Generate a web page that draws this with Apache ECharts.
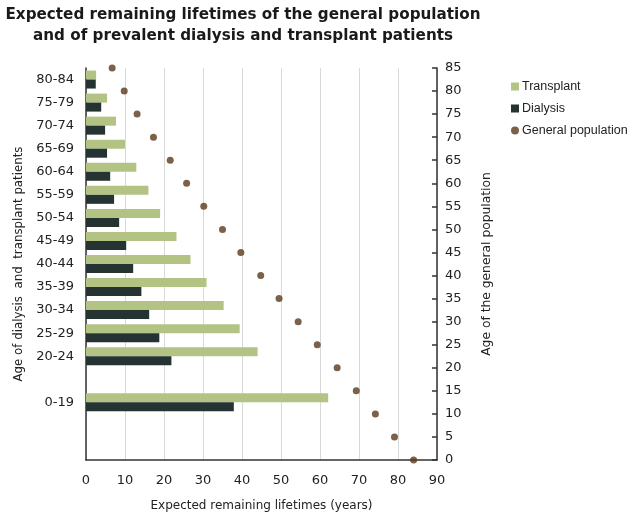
<!DOCTYPE html>
<html>
<head>
<meta charset="utf-8">
<script src="https://cdn.jsdelivr.net/npm/echarts@6/dist/echarts.min.js"></script>
<style>
  html, body { margin: 0; padding: 0; background: #fff; }
  #chart { width: 633px; height: 519px; }
</style>
</head>
<body>
<div id="chart"></div>
<script>
// age bands of patients, bottom to top (5-year slots on the right axis)
const ageGroups = ['', '', '0-19', '', '20-24', '25-29', '30-34', '35-39', '40-44',
  '45-49', '50-54', '55-59', '60-64', '65-69', '70-74', '75-79', '80-84']
const transplant = [null, null, 62.1, null, 44, 39.4, 35.3, 30.9, 26.8,
  23.2, 19, 16, 12.9, 10, 7.7, 5.4, 2.6]
const dialysis = [null, null, 37.9, null, 21.9, 18.8, 16.2, 14.2, 12.1,
  10.3, 8.5, 7.2, 6.2, 5.4, 4.9, 3.9, 2.5]

// general population: age and expected remaining lifetime
const popAge = [0, 5, 10, 15, 20, 25, 30, 35, 40, 45, 50, 55, 60, 65, 70, 75, 80, 85]
const popLife = [84, 79.1, 74.2, 69.3, 64.4, 59.3, 54.4, 49.5, 44.8, 39.7,
  35, 30.2, 25.8, 21.6, 17.3, 13.1, 9.8, 6.7]

const font = 'DejaVu Sans'
const chart = echarts.init(document.getElementById('chart'))

chart.setOption({
  animation: false,
  textStyle: { fontFamily: font },
  title: {
    text: 'Expected remaining lifetimes of the general population\nand of prevalent dialysis and transplant patients',
    left: 238,
    top: 0,
    textAlign: 'center',
    textStyle: { fontSize: 15.2, fontWeight: 'bold', color: '#1a1a1a', lineHeight: 21, fontFamily: font }
  },
  legend: {
    orient: 'vertical',
    left: 506,
    top: 75,
    itemGap: 9,
    itemWidth: 8,
    itemHeight: 8,
    textStyle: { fontSize: 12.5, color: '#222', fontFamily: 'Liberation Sans', padding: [0, 0, 0, -2] },
    data: [
      { name: 'Transplant', icon: 'rect' },
      { name: 'Dialysis', icon: 'rect' },
      { name: 'General population', icon: 'circle' }
    ]
  },
  grid: { left: 86, right: 196, top: 68, bottom: 59 },
  xAxis: {
    type: 'value',
    min: 0,
    max: 90,
    interval: 10,
    name: 'Expected remaining lifetimes (years)',
    nameLocation: 'middle',
    nameGap: 40,
    nameTextStyle: { fontSize: 12, color: '#222' },
    axisLine: { show: true, lineStyle: { color: '#333', width: 1.5 } },
    axisTick: { show: false },
    axisLabel: { fontSize: 13, color: '#222', margin: 14 },
    splitLine: { show: true, lineStyle: { color: '#d9d9d9' } }
  },
  yAxis: [
    {
      type: 'category',
      data: ageGroups,
      position: 'left',
      name: 'Age of dialysis  and  transplant patients',
      nameLocation: 'middle',
      nameGap: 60,
      nameRotate: 90,
      nameTextStyle: { fontSize: 11.8, color: '#222' },
      axisLine: { show: true, lineStyle: { color: '#333', width: 1.5 } },
      axisTick: { show: false },
      axisLabel: { fontSize: 13, color: '#222', margin: 12, interval: 0 },
      splitLine: { show: false }
    },
    {
      type: 'value',
      position: 'right',
      min: 0,
      max: 85,
      interval: 5,
      name: 'Age of the general population',
      nameLocation: 'middle',
      nameGap: 44,
      nameRotate: 90,
      nameTextStyle: { fontSize: 12.3, color: '#222' },
      axisLine: { show: true, lineStyle: { color: '#333', width: 1.5 } },
      axisTick: { show: true, inside: true, length: 5, lineStyle: { color: '#333', width: 1.5 } },
      axisLabel: { fontSize: 13, color: '#222', margin: 8 },
      splitLine: { show: false }
    }
  ],
  series: [
    {
      name: 'Transplant',
      type: 'bar',
      yAxisIndex: 0,
      data: transplant,
      barWidth: 9,
      barGap: '0%',
      itemStyle: { color: '#b3c383' }
    },
    {
      name: 'Dialysis',
      type: 'bar',
      yAxisIndex: 0,
      data: dialysis,
      barWidth: 9,
      barGap: '0%',
      itemStyle: { color: '#263333' }
    },
    {
      name: 'General population',
      type: 'scatter',
      yAxisIndex: 1,
      symbolSize: 7,
      data: popAge.map((a, i) => [popLife[i], a]),
      itemStyle: { color: '#5a3a1c' }
    }
  ]
})
</script>
</body>
</html>
